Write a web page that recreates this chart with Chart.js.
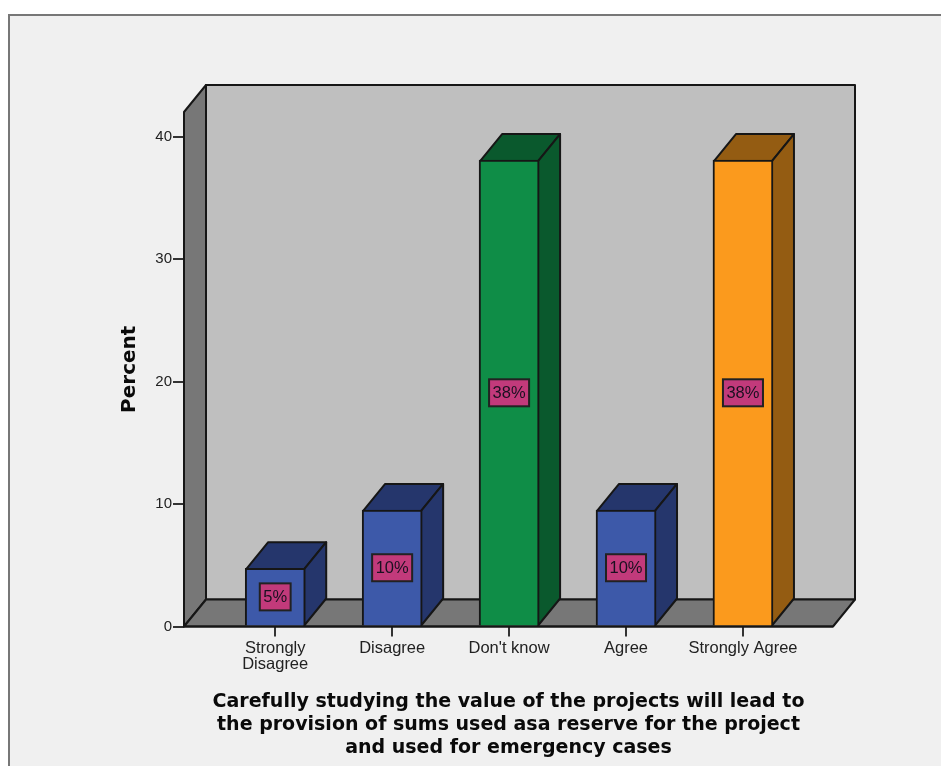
<!DOCTYPE html>
<html>
<head>
<meta charset="utf-8">
<title>Percent bar chart</title>
<style>
  html, body { margin: 0; background: #fff; overflow: hidden; }
  #frame {
    position: absolute; left: 8px; top: 14px; width: 933px; height: 752px;
    box-sizing: border-box; background: #f0f0f0;
    border-left: 2px solid #777; border-top: 2px solid #777;
  }
  #chart { position: absolute; left: 0; top: 0; }
</style>
<script src="https://cdn.jsdelivr.net/npm/chart.js@4"></script>
</head>
<body>
<div id="frame"></div>
<canvas id="chart" width="941" height="766"></canvas>
<script>
const categories = [["Strongly", "Disagree"], "Disagree", "Don't know", "Agree", "Strongly Agree"]
const percents = [4.76, 9.52, 38.1, 9.52, 38.1]
const frontColors = ["#3d59a9", "#3d59a9", "#0f8d47", "#3d59a9", "#fb9a1d"]
const sideColors = ["#25366c", "#25366c", "#0a592d", "#25366c", "#945c12"]
const yTicks = [0, 10, 20, 30, 40]
const xTitle = [
  "Carefully studying the value of the projects will lead to",
  "the provision of sums used asa reserve for the project",
  "and used for emergency cases",
]

const DEPTH_X = 22
const DEPTH_Y = 27
const LINE = "#161616"
const FONT = "'Liberation Sans', Arial, sans-serif"
const TITLE_FONT = "'DejaVu Sans', sans-serif"

const poly = (ctx, pts, fill) => {
  ctx.beginPath()
  pts.forEach(([x, y], i) => (i ? ctx.lineTo(x, y) : ctx.moveTo(x, y)))
  ctx.closePath()
  ctx.fillStyle = fill
  ctx.fill()
  ctx.stroke()
}

// back wall, side wall and floor, plus the top and side face of every bar
const box3d = {
  id: "box3d",
  beforeDatasetsDraw(chart) {
    const { ctx, chartArea: a } = chart
    const dx = DEPTH_X
    const dy = DEPTH_Y
    ctx.save()
    ctx.lineWidth = 2
    ctx.strokeStyle = LINE
    ctx.lineJoin = "round"
    poly(ctx, [[a.left + dx, a.top - dy], [a.right + dx, a.top - dy], [a.right + dx, a.bottom - dy], [a.left + dx, a.bottom - dy]], "#bfbfbf")
    poly(ctx, [[a.left, a.top], [a.left + dx, a.top - dy], [a.left + dx, a.bottom - dy], [a.left, a.bottom]], "#777777")
    poly(ctx, [[a.left, a.bottom], [a.left + dx, a.bottom - dy], [a.right + dx, a.bottom - dy], [a.right, a.bottom]], "#777777")

    chart.getDatasetMeta(0).data.forEach((bar, i) => {
      const half = bar.width / 2
      const l = bar.x - half + 1
      const r = bar.x + half - 1
      const t = bar.y + 1
      const b = bar.base
      poly(ctx, [[l, t], [l + dx, t - dy], [r + dx, t - dy], [r, t]], sideColors[i])
      poly(ctx, [[r, t], [r + dx, t - dy], [r + dx, b - dy], [r, b]], sideColors[i])
    })
    ctx.restore()
  },
  afterDatasetsDraw(chart) {
    const { ctx, chartArea: a } = chart
    ctx.save()
    ctx.font = `16.5px ${FONT}`
    ctx.textAlign = "center"
    ctx.textBaseline = "middle"
    chart.getDatasetMeta(0).data.forEach((bar, i) => {
      const text = `${Math.round(percents[i])}%`
      const w = ctx.measureText(text).width + 7
      const h = 27
      const cy = (bar.y + bar.base) / 2
      ctx.fillStyle = "#c23a7b"
      ctx.strokeStyle = "#222"
      ctx.lineWidth = 2
      ctx.fillRect(bar.x - w / 2, cy - h / 2, w, h)
      ctx.strokeRect(bar.x - w / 2, cy - h / 2, w, h)
      ctx.fillStyle = "#1a1020"
      ctx.fillText(text, bar.x, cy + 1)
    })
    // axis line along the front edge of the floor
    ctx.strokeStyle = LINE
    ctx.lineWidth = 2
    ctx.beginPath()
    ctx.moveTo(a.left, a.bottom)
    ctx.lineTo(a.right, a.bottom)
    ctx.stroke()
    ctx.restore()
  },
}

new Chart(document.getElementById("chart"), {
  type: "bar",
  data: {
    datasets: [
      {
        data: percents.map((y, x) => ({ x, y })),
        backgroundColor: frontColors,
        borderColor: LINE,
        borderWidth: 2,
        barThickness: 60,
      },
    ],
  },
  plugins: [box3d],
  options: {
    animation: false,
    responsive: false,
    layout: { padding: { left: 114, top: 112, right: 108, bottom: 0 } },
    plugins: { legend: { display: false }, tooltip: { enabled: false } },
    scales: {
      x: {
        type: "linear",
        min: -0.78,
        max: 4.77,
        offset: false,
        afterFit: (scale) => { scale.height = 139.5 },
        afterBuildTicks: (scale) => { scale.ticks = categories.map((_, value) => ({ value })) },
        border: { display: false },
        grid: { offset: false, drawOnChartArea: false, tickLength: 10, color: "#333", lineWidth: 2 },
        ticks: {
          maxRotation: 0,
          autoSkip: false,
          padding: 4,
          color: "#222",
          font: { family: FONT, size: 16.5, lineHeight: 0.97 },
          callback: (value) => categories[value],
        },
        title: {
          display: true,
          text: xTitle,
          color: "#0a0a0a",
          font: { family: TITLE_FONT, size: 19, weight: "bold", lineHeight: 1.19 },
          padding: { top: 0, bottom: 7 },
        },
      },
      y: {
        min: 0,
        max: 42.03,
        afterFit: (scale) => { scale.width = 70 },
        afterBuildTicks: (scale) => { scale.ticks = yTicks.map((value) => ({ value })) },
        border: { display: false },
        grid: { drawOnChartArea: false, tickLength: 11, color: "#333", lineWidth: 2 },
        ticks: {
          padding: 1,
          color: "#222",
          font: { family: FONT, size: 15 },
        },
        title: {
          display: true,
          text: "Percent",
          color: "#0a0a0a",
          font: { family: TITLE_FONT, size: 20, weight: "bold" },
          padding: { top: 4, bottom: 0 },
        },
      },
    },
  },
})
</script>
</body>
</html>
